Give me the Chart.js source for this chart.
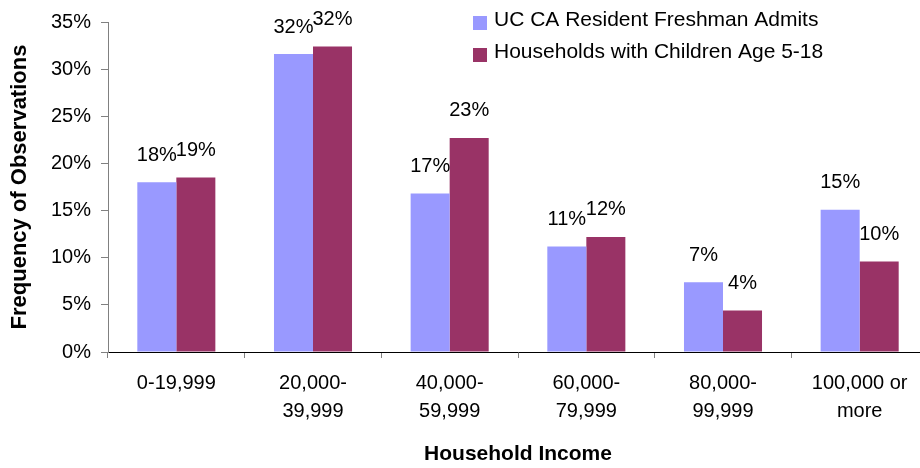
<!DOCTYPE html>
<html>
<head>
<meta charset="utf-8">
<script src="https://cdn.jsdelivr.net/npm/chart.js@4.4.1/dist/chart.umd.min.js"></script>
<style>
  html,body{margin:0;padding:0;background:#fff;overflow:hidden;}
  #wrap{width:930px;height:468px;}
</style>
</head>
<body>
<div id="wrap"><canvas id="c" width="930" height="468"></canvas></div>
<script>
const incomeBands=[['0-19,999'],['20,000-','39,999'],['40,000-','59,999'],['60,000-','79,999'],['80,000-','99,999'],['100,000 or','more']];
const admits=[18.0,31.6,16.8,11.2,7.4,15.1];
const households=[18.5,32.4,22.7,12.2,4.4,9.6];
const seriesNames=['UC CA Resident Freshman Admits','Households with Children Age 5-18'];
const yTicks=[0,5,10,15,20,25,30,35];

const FONT='Arial, "Liberation Sans", sans-serif';

// percent labels above each bar
const barLabels={
  id:'barLabels',
  afterDatasetsDraw(chart){
    const ctx=chart.ctx;
    ctx.save();
    ctx.font='20px '+FONT;
    ctx.fillStyle='#000';
    ctx.textAlign='center';
    ctx.textBaseline='middle';
    chart.data.datasets.forEach((ds,i)=>{
      chart.getDatasetMeta(i).data.forEach((bar,j)=>{
        ctx.fillText(Math.round(ds.data[j])+'%',bar.x,bar.y-27);
      });
    });
    ctx.restore();
  }
};

// legend drawn inside the plot, top right
const boxLegend={
  id:'boxLegend',
  afterDraw(chart){
    const ctx=chart.ctx;
    ctx.save();
    ctx.font='21px '+FONT;
    ctx.textBaseline='middle';
    ctx.textAlign='left';
    chart.data.datasets.forEach((ds,i)=>{
      const y=23+i*32;
      ctx.fillStyle=ds.backgroundColor;
      ctx.fillRect(473,y-7,14,14);
      ctx.fillStyle='#000';
      ctx.fillText(ds.label,494,y-3);
    });
    ctx.restore();
  }
};

new Chart(document.getElementById('c'),{
  type:'bar',
  data:{
    labels:incomeBands,
    datasets:[
      {label:seriesNames[0],data:admits,backgroundColor:'#9999FF'},
      {label:seriesNames[1],data:households,backgroundColor:'#993366'}
    ]
  },
  options:{
    responsive:false,
    animation:false,
    layout:{padding:{top:19,right:2,left:0,bottom:0}},
    datasets:{bar:{categoryPercentage:0.571,barPercentage:1}},
    plugins:{legend:{display:false},tooltip:{enabled:false}},
    scales:{
      x:{
        afterFit:(s)=>{s.height=116;},
        border:{color:'#000',width:1},
        grid:{drawOnChartArea:false,color:'#808080',tickLength:6,offset:true},
        ticks:{color:'#000',font:{family:FONT,size:20,lineHeight:1.4},padding:11,maxRotation:0,autoSkip:false},
        title:{display:true,text:'Household Income',color:'#000',font:{family:FONT,size:21,weight:'bold'},padding:{top:0,bottom:1}}
      },
      y:{
        min:0,max:35,
        afterFit:(s)=>{s.width=108;},
        afterBuildTicks:(s)=>{s.ticks=yTicks.map(v=>({value:v}));},
        border:{color:'#808080',width:1},
        grid:{drawOnChartArea:false,color:'#808080',tickLength:7},
        ticks:{color:'#000',font:{family:FONT,size:20},padding:10,callback:(v)=>v+'%'},
        title:{display:true,text:'Frequency of Observations',color:'#000',font:{family:FONT,size:22,weight:'bold'},padding:{top:7,bottom:0}}
      }
    }
  },
  plugins:[barLabels,boxLegend]
});
</script>
</body>
</html>
